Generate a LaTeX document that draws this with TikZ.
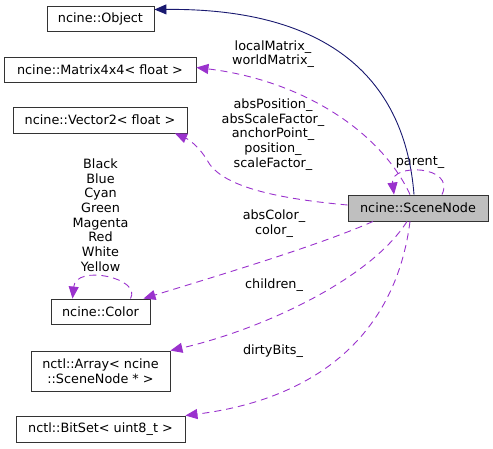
\documentclass[tikz,border=0pt]{standalone}
\usepackage{fontspec}
\setmainfont{DejaVu Sans}
\usepackage{xcolor}
\usepackage{tikz}
\usetikzlibrary{positioning,calc,arrows.meta}
\definecolor{EdgeNavy}{RGB}{25,25,112}
\definecolor{EdgeOrchid}{RGB}{154,50,205}
\definecolor{MainGray}{RGB}{191,191,191}
\tikzset{
    classnode/.style={draw=black!80, fill=white, line width=0.9pt, inner sep=0pt, align=center, minimum height=25pt},
    mainnode/.style={classnode, fill=MainGray},
    edgelabel/.style={align=center, inner sep=0pt},
    inheritedge/.style={draw=EdgeNavy, line width=0.9pt, -{Triangle[length=12pt,width=10pt]}},
    useedge/.style={draw=EdgeOrchid, line width=0.9pt, dash pattern=on 7pt off 5pt, -{Triangle[length=12pt,width=10pt]}}
}
\begin{document}
\begin{tikzpicture}[
                x=1pt, y=-1pt,
                font=\fontsize{12.8}{14.7}\selectfont
            ]
                \useasboundingbox (0,0) rectangle (493,448);
                % classes
                \node[classnode, minimum width=107pt] (obj) at (100.5,18.5) {ncine::Object};
                \node[classnode, minimum width=192pt] (mat) at (100,69.5) {ncine::Matrix4x4< float >};
                \node[classnode, minimum width=174pt, minimum height=26pt] (vec) at (100,120) {ncine::Vector2< float >};
                \node[mainnode, minimum width=140pt, minimum height=26pt] (scn) at (418,208) {ncine::SceneNode};
                \node[classnode, minimum width=99pt] (col) at (100.5,311.5) {ncine::Color};
                \node[classnode, minimum width=139pt, minimum height=40pt] (arr) at (100.5,371) {nctl::Array< ncine\\::SceneNode * >};
                \node[classnode, minimum width=169pt, minimum height=26pt] (bit) at (100.5,429) {nctl::BitSet< uint8\_t >};
                % labels
                \node[edgelabel] (lblmat) at (273,54) {localMatrix\_\\worldMatrix\_};
                \node[edgelabel] (lblvec) at (273,134.5) {absPosition\_\\absScaleFactor\_\\anchorPoint\_\\position\_\\scaleFactor\_};
                \node[edgelabel] (lblpar) at (420,163) {parent\_};
                \node[edgelabel] (lblcol) at (274,223.5) {absColor\_\\color\_};
                \node[edgelabel] (lblclr) at (100.5,215) {Black\\Blue\\Cyan\\Green\\Magenta\\Red\\White\\Yellow};
                \node[edgelabel] (lblarr) at (274,285) {children\_};
                \node[edgelabel] (lblbit) at (273,351) {dirtyBits\_};
                % connectors
                \draw[inheritedge] ([xshift=-4pt]scn.north) .. controls (405,80) and (330,8) .. ([yshift=9pt]obj.east);
                \draw[useedge] ([xshift=-8pt]scn.north) .. controls (380,130) and (300,80) .. ([yshift=2pt]mat.east);
                \draw[useedge] ([yshift=3pt]scn.west) .. controls (270,198) and (220,185) .. (207,160) .. controls (200,148) and (190,140) .. ([xshift=75pt]vec.south);
                \draw[useedge] ([xshift=24pt]scn.north) .. controls (456,165) and (390,163) .. ([xshift=-24pt]scn.north);
                \draw[useedge] ([xshift=-45pt]scn.south) .. controls (320,245) and (220,275) .. ([xshift=43pt]col.north);
                \draw[useedge] ([xshift=30pt]col.north) .. controls (142,278) and (76,264) .. ([xshift=-28pt]col.north);
                \draw[useedge] ([xshift=-11pt]scn.south) .. controls (370,280) and (260,330) .. (arr.north east);
                \draw[useedge] ([xshift=-8pt]scn.south) .. controls (395,340) and (310,400) .. (bit.north east);
            \end{tikzpicture}
\end{document}
